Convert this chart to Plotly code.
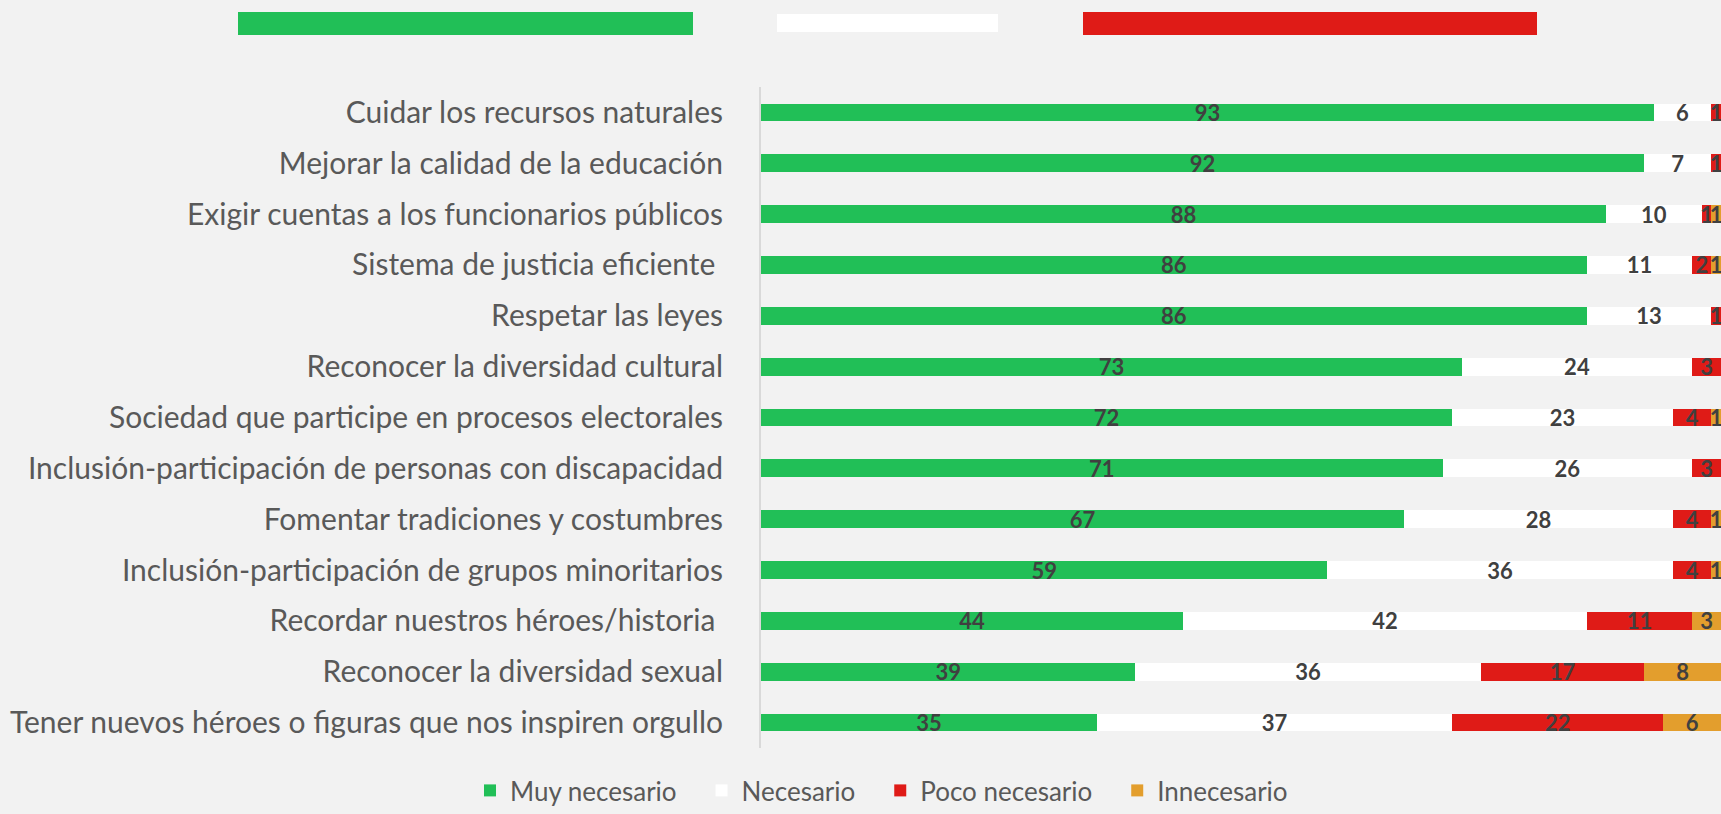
import plotly.graph_objects as go

# categories, top to bottom as in the chart
categorias = [
    "Cuidar los recursos naturales",
    "Mejorar la calidad de la educación",
    "Exigir cuentas a los funcionarios públicos",
    "Sistema de justicia eficiente\u00a0",
    "Respetar las leyes",
    "Reconocer la diversidad cultural",
    "Sociedad que participe en procesos electorales",
    "Inclusión-participación de personas con discapacidad",
    "Fomentar tradiciones y costumbres",
    "Inclusión-participación de grupos minoritarios",
    "Recordar nuestros héroes/historia\u00a0",
    "Reconocer la diversidad sexual",
    "Tener nuevos héroes o figuras que nos inspiren orgullo",
]

muy_necesario = [93, 92, 88, 86, 86, 73, 72, 71, 67, 59, 44, 39, 35]
necesario = [6, 7, 10, 11, 13, 24, 23, 26, 28, 36, 42, 36, 37]
poco_necesario = [1, 1, 1, 2, 1, 3, 4, 3, 4, 4, 11, 17, 22]
innecesario = [0, 0, 1, 1, 0, 0, 1, 0, 1, 1, 3, 8, 6]

series = [
    ("Muy necesario", muy_necesario, "#21BF57"),
    ("Necesario", necesario, "#FFFFFF"),
    ("Poco necesario", poco_necesario, "#DF1B17"),
    ("Innecesario", innecesario, "#E39E2D"),
]

W, H = 1721, 814
FONT = "Lato"
PAD = "\u00a0" * 3  # extra room between legend entries

fig = go.Figure()
for name, vals, color in series:
    fig.add_trace(go.Bar(
        y=categorias,
        x=vals,
        name=name + PAD,
        orientation="h",
        marker=dict(color=color, line=dict(width=0)),
        text=[str(v) if v else "" for v in vals],
        textposition="inside",
        insidetextanchor="middle",
        textangle=0,
        textfont=dict(family=FONT, size=22, color="#404040", weight="bold"),
        hovertemplate=name + ": %{x}<extra></extra>",
    ))

# decorative flag stripes at the top (pixel boxes -> paper coords)
stripes = [
    (238, 693, 12, 35, "#21BF57"),
    (777, 998, 14, 32, "#FFFFFF"),
    (1083, 1537, 12, 35, "#DF1B17"),
]
for x0, x1, y0, y1, c in stripes:
    fig.add_shape(type="rect", xref="paper", yref="paper",
                  x0=(x0 - 761) / 960, x1=(x1 - 761) / 960,
                  y0=1 + (87 - y1) / 661, y1=1 + (87 - y0) / 661,
                  fillcolor=c, line=dict(width=0), layer="above")

fig.update_layout(
    width=W, height=H,
    barmode="stack",
    bargap=0.65,
    paper_bgcolor="#F2F2F2",
    plot_bgcolor="#F2F2F2",
    margin=dict(l=761, r=0, t=87, b=66, autoexpand=False),
    font=dict(family=FONT, color="#595959"),
    uniformtext=dict(mode="show", minsize=22),
    showlegend=True,
    legend=dict(
        orientation="h",
        xref="container", x=0.518, xanchor="center",
        yref="container", y=0, yanchor="bottom",
        font=dict(family=FONT, size=26, color="#595959"),
        itemwidth=30,
        traceorder="normal",
        bgcolor="rgba(0,0,0,0)",
    ),
)
fig.update_xaxes(range=[0, 100], visible=False, fixedrange=True)
fig.update_yaxes(
    autorange="reversed",
    showline=True, linecolor="#D9D9D9", linewidth=2,
    showgrid=False, ticks="", ticklabelstandoff=30,
    tickfont=dict(family=FONT, size=30, color="#595959"),
)

fig.write_html(
    "out.html",
    config={"displayModeBar": False},
    post_script="document.body.style.margin='0';document.body.style.background='#F2F2F2';",
)
